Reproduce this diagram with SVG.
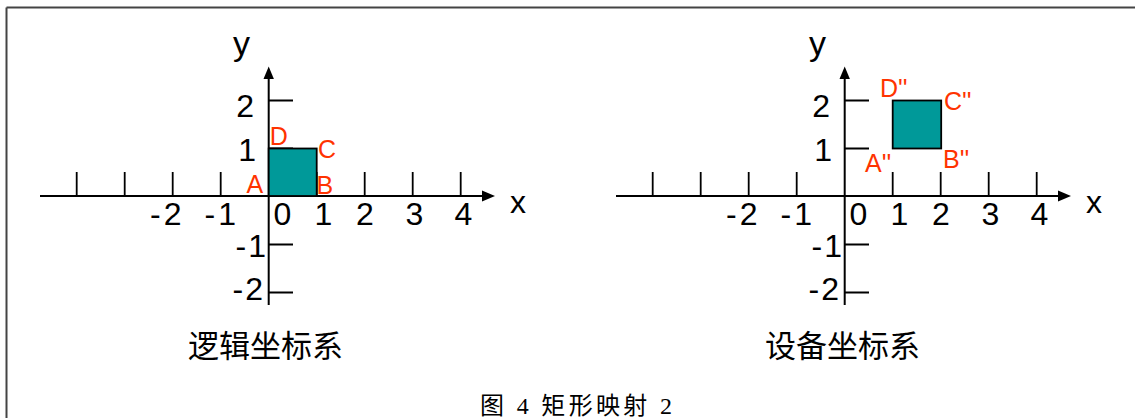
<svg xmlns="http://www.w3.org/2000/svg" width="1135" height="418" viewBox="0 0 1135 418">
<style>
.ax{stroke:#000;stroke-width:2;fill:none}
.tk{stroke:#000;stroke-width:1.8;fill:none}
.num{font-family:"Liberation Sans",Arial,sans-serif;font-size:32px;fill:#000}
.lbl{font-family:"Liberation Sans",Arial,sans-serif;font-size:25px;fill:#FF3300}
.cjk{font-family:"Noto Sans CJK SC",sans-serif;font-size:31px;fill:#000}
.cap{font-family:"Liberation Serif","Noto Sans CJK SC",serif;font-size:24px;fill:#000}
.rect{fill:#009999;stroke:#000;stroke-width:1.8}
.arr{fill:#000}
</style>
<defs>
<g id="axes">
<line class="ax" x1="40" y1="196" x2="485" y2="196"/>
<polygon class="arr" points="495,196 482,190.5 482,201.5"/>
<line class="ax" x1="268.7" y1="305" x2="268.7" y2="78"/>
<polygon class="arr" points="268.7,66.5 263.5,79 273.9,79"/>
<path class="tk" d="M76.7,172V196M124.7,172V196M172.7,172V196M220.7,172V196M316.7,172V196M364.7,172V196M412.7,172V196M460.7,172V196"/>
<path class="tk" d="M268.7,100.5H293M268.7,148.5H293M268.7,244.5H293M268.7,292.5H293"/>
<text class="num" x="181.5" y="225" text-anchor="end">-<tspan dx="3">2</tspan></text>
<text class="num" x="236" y="225" text-anchor="end">-<tspan dx="3">1</tspan></text>
<text class="num" x="273.6" y="225">0</text>
<text class="num" x="314.5" y="225">1</text>
<text class="num" x="356" y="225">2</text>
<text class="num" x="405.6" y="225">3</text>
<text class="num" x="454.6" y="225">4</text>
<text class="num" x="254" y="117.3" text-anchor="end">2</text>
<text class="num" x="256" y="160.5" text-anchor="end">1</text>
<text class="num" x="266" y="256.5" text-anchor="end">-<tspan dx="2">1</tspan></text>
<text class="num" x="263" y="300" text-anchor="end">-<tspan dx="2">2</tspan></text>
<text class="num" x="510" y="213.3">x</text>
<text class="num" x="233" y="55" style="font-size:34px">y</text>
</g>
</defs>
<g id="frame">
<line x1="6.5" y1="7.5" x2="1135" y2="7.5" stroke="#444" stroke-width="2"/>
<line x1="6.5" y1="7.5" x2="6.5" y2="418" stroke="#444" stroke-width="2"/>
</g>
<g id="connectors">
<use href="#axes"/>
<use href="#axes" transform="translate(576,0)"/>
</g>
<g id="logical">
<rect class="rect" x="268.7" y="148.5" width="48" height="47.5"/>
<text class="lbl" x="269.7" y="145">D</text>
<text class="lbl" x="318" y="158">C</text>
<text class="lbl" x="246.5" y="193">A</text>
<text class="lbl" x="316.5" y="193.5">B</text>
<text class="cjk" x="188" y="357" textLength="155" lengthAdjust="spacingAndGlyphs">逻辑坐标系</text>
</g>
<g id="device">
<rect class="rect" x="892.7" y="100.5" width="48.5" height="48"/>
<text class="lbl" x="880" y="96.7">D''</text>
<text class="lbl" x="944" y="110">C''</text>
<text class="lbl" x="865" y="171.5">A''</text>
<text class="lbl" x="943" y="168.3">B''</text>
<text class="cjk" x="765" y="357" textLength="155" lengthAdjust="spacingAndGlyphs">设备坐标系</text>
</g>
<g id="caption">
<text class="cap" x="480" y="414" textLength="192" lengthAdjust="spacing">图 4 矩形映射 2</text>
</g>
</svg>
